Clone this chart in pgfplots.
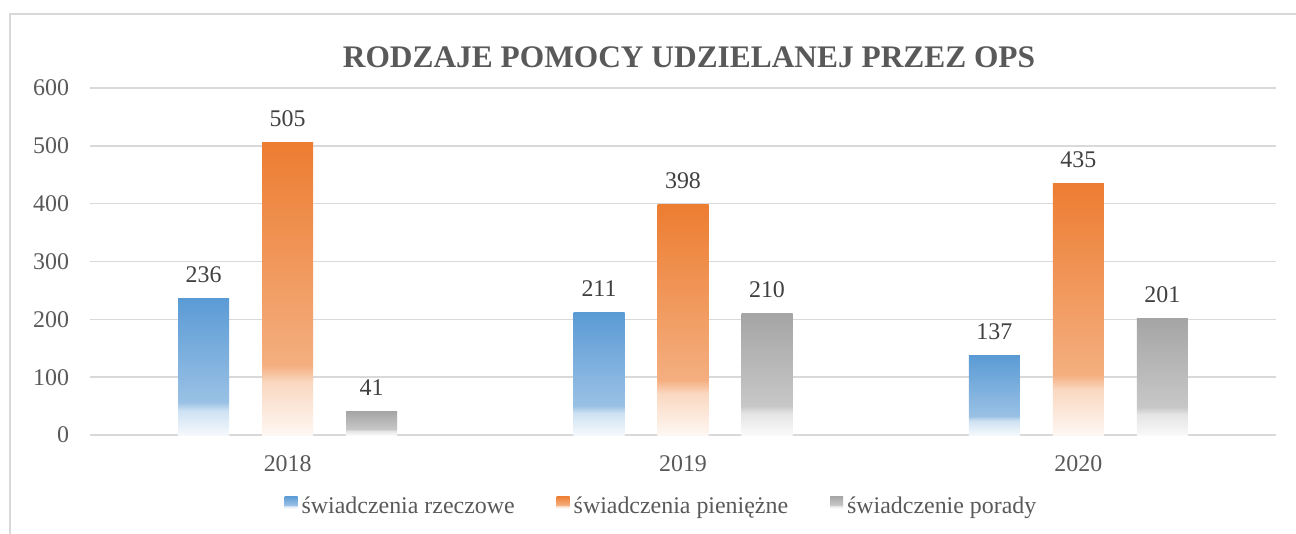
\documentclass[border=0pt]{standalone}
\usepackage{pgfplots}
\pgfplotsset{compat=1.18}
\usepackage{fontspec}
\setmainfont{Liberation Serif}
\definecolor{cB}{HTML}{5B9BD5}
\definecolor{cO}{HTML}{ED7D31}
\definecolor{cG}{HTML}{A5A5A5}
\definecolor{txtgray}{HTML}{595959}
\definecolor{lblgray}{HTML}{404040}
\definecolor{gridc}{HTML}{D9D9D9}
\colorlet{cBL}{cB!6!white}\colorlet{cBM}{cB!30!white}\colorlet{cBH}{cB!62!white}
\colorlet{cOL}{cO!6!white}\colorlet{cOM}{cO!30!white}\colorlet{cOH}{cO!62!white}
\colorlet{cGL}{cG!6!white}\colorlet{cGM}{cG!30!white}\colorlet{cGH}{cG!62!white}
\pgfdeclareverticalshading{shB}{100bp}{color(0bp)=(cBL); color(25bp)=(cBL); color(34bp)=(cBM); color(37bp)=(cBH); color(75bp)=(cB); color(100bp)=(cB)}
\pgfdeclareverticalshading{shO}{100bp}{color(0bp)=(cOL); color(25bp)=(cOL); color(34bp)=(cOM); color(37bp)=(cOH); color(75bp)=(cO); color(100bp)=(cO)}
\pgfdeclareverticalshading{shG}{100bp}{color(0bp)=(cGL); color(25bp)=(cGL); color(34bp)=(cGM); color(37bp)=(cGH); color(75bp)=(cG); color(100bp)=(cG)}
\pgfplotsset{
  barB/.style={ybar, bar width=25.5bp, bar shift=-42bp, draw=none, shading=shB, forget plot, nodes near coords, every node near coord/.append style={xshift=-42bp}},
  barO/.style={ybar, bar width=25.5bp, bar shift=0bp, draw=none, shading=shO, forget plot, nodes near coords},
  barG/.style={ybar, bar width=25.5bp, bar shift=42bp, draw=none, shading=shG, forget plot, nodes near coords, every node near coord/.append style={xshift=42bp}},
}
\begin{document}
\begin{tikzpicture}[x=1bp,y=1bp]
\useasboundingbox (0,0) rectangle (648,266.5);
\clip (0,0) rectangle (648,266.5);
\fill[white] (0,0) rectangle (648,266.5);
\draw[gridc, line width=1bp] (5,-20) rectangle (700,259.5);
\node[font=\bfseries\fontsize{15.75}{18}\selectfont, text=txtgray] at (344.5,238) {RODZAJE POMOCY UDZIELANEJ PRZEZ OPS};
\begin{axis}[
  at={(45bp,49bp)}, anchor=south west,
  scale only axis, width=593bp, height=173.5bp,
  xmin=-0.5, xmax=2.5, ymin=0, ymax=600,
  ytick={0,100,...,600}, xtick={0,1,2}, xticklabels={2018,2019,2020},
  /pgf/number format/assume math mode=true,
  axis line style={draw=none}, tick style={draw=none},
  ymajorgrids, grid style={gridc, line width=0.75bp},
  yticklabel style={font=\fontsize{12}{14}\selectfont, text=txtgray, xshift=-7bp},
  xticklabel style={font=\fontsize{12}{14}\selectfont, text=txtgray, yshift=-7bp},
  every node near coord/.append style={font=\fontsize{12}{14}\selectfont, text=lblgray, yshift=4.5bp},
  legend columns=3,
  legend style={at={(0.4827,-0.2075)}, anchor=center, draw=none, fill=none,
    font=\fontsize{12}{14}\selectfont, text=txtgray,
    nodes={inner xsep=2bp},
    /tikz/every even column/.append style={column sep=19bp},
    /tikz/every odd column/.append style={column sep=0bp}},
]
\addplot[barB] coordinates {(0,236)};
\addplot[barB] coordinates {(1,211)};
\addplot[barB] coordinates {(2,137)};
\addplot[barO] coordinates {(0,505)};
\addplot[barO] coordinates {(1,398)};
\addplot[barO] coordinates {(2,435)};
\addplot[barG] coordinates {(0,41)};
\addplot[barG] coordinates {(1,210)};
\addplot[barG] coordinates {(2,201)};
\addlegendimage{draw=none, legend image code/.code={\path[draw=none, shading=shB] (0bp,-0.5bp) rectangle (6.5bp,5.5bp);}}
\addlegendentry{świadczenia rzeczowe}
\addlegendimage{draw=none, legend image code/.code={\path[draw=none, shading=shO] (0bp,-0.5bp) rectangle (6.5bp,5.5bp);}}
\addlegendentry{świadczenia pieniężne}
\addlegendimage{draw=none, legend image code/.code={\path[draw=none, shading=shG] (0bp,-0.5bp) rectangle (6.5bp,5.5bp);}}
\addlegendentry{świadczenie porady}
\end{axis}
\end{tikzpicture}
\end{document}
